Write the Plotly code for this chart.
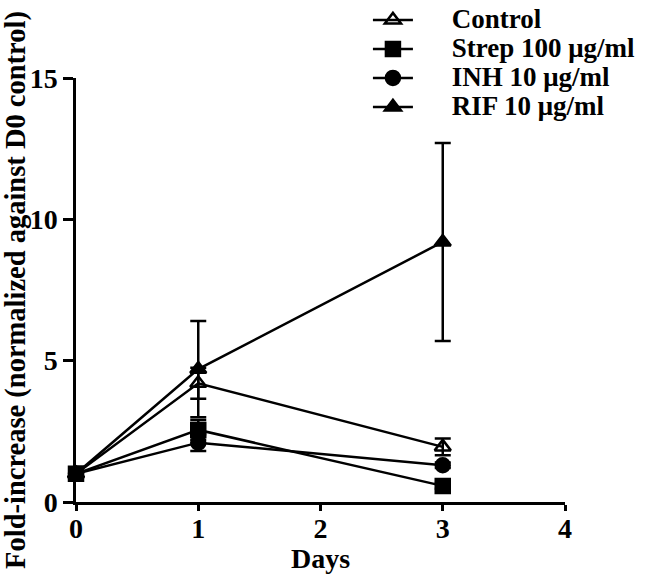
import plotly.graph_objects as go

days = [0, 1, 3]
series_names = ["Control", "Strep 100 μg/ml", "INH 10 μg/ml", "RIF 10 μg/ml"]
control_vals = [1.0, 4.2, 1.95]
control_err = [0.25, 0.55, 0.3]
strep_vals = [1.0, 2.55, 0.57]
strep_err = [0.1, 0.35, 0.1]
inh_vals = [1.0, 2.1, 1.3]
inh_err = [0.1, 0.3, 0.1]
rif_vals = [1.0, 4.7, 9.2]
rif_err = [0.1, 1.7, 3.5]

x_ticks = [0, 1, 2, 3, 4]
y_ticks = [0, 5, 10, 15]

FONT = "Liberation Serif"

specs = [
    (series_names[0], control_vals, control_err, "triangle-up-open", 1),
    (series_names[2], inh_vals, inh_err, "circle", 3),
    (series_names[3], rif_vals, rif_err, "triangle-up", 4),
    (series_names[1], strep_vals, strep_err, "square", 2),
]

fig = go.Figure()
for name, vals, err, sym, rank in specs:
    fig.add_trace(go.Scatter(
        x=days, y=vals, mode="lines+markers",
        name='<span style="font-size:27px">' + "&nbsp;" * 5 + name + '</span>',
        legendrank=rank,
        line=dict(color="black", width=2.5),
        marker=dict(symbol=sym, size=14, color="black",
                    line=dict(color="black", width=2.5)),
        error_y=dict(type="data", array=err, visible=True,
                     color="black", thickness=2.5, width=8),
        cliponaxis=False,
    ))

fig.update_layout(
    width=650, height=574,
    margin=dict(l=76, r=85, t=78, b=72, autoexpand=False),
    paper_bgcolor="white", plot_bgcolor="white",
    font=dict(family=FONT, size=26, color="black"),
    showlegend=True,
    legend=dict(x=0.597, y=1.183, xanchor="left", yanchor="top",
                font=dict(family=FONT, size=20, color="black", weight="bold"),
                bgcolor="rgba(0,0,0,0)", tracegroupgap=0, itemwidth=40),
    xaxis=dict(range=[0, 4], tickvals=x_ticks, ticktext=[str(t) for t in x_ticks],
               showline=True, linecolor="black", linewidth=2.5,
               ticks="outside", ticklen=6, tickwidth=2.5, tickcolor="black",
               showgrid=False, zeroline=False, ticklabelstandoff=-6,
               tickfont=dict(family=FONT, size=28, weight="bold"),
               title=dict(text="Days", standoff=0,
                          font=dict(family=FONT, size=28, weight="bold"))),
    yaxis=dict(range=[0, 15], tickvals=y_ticks, ticktext=[str(t) for t in y_ticks],
               showline=True, linecolor="black", linewidth=2.5,
               ticks="outside", ticklen=10, tickwidth=2.5, tickcolor="black",
               showgrid=False, zeroline=False,
               tickfont=dict(family=FONT, size=28, weight="bold"),
               title=dict(text="Fold-increase (normalized against D0 control)", standoff=0,
                          font=dict(family=FONT, size=28.5, weight="bold"))),
)

fig.write_html("out.html",
               config={"displayModeBar": False},
               post_script="document.body.style.margin='0px';document.body.style.padding='0px';")
